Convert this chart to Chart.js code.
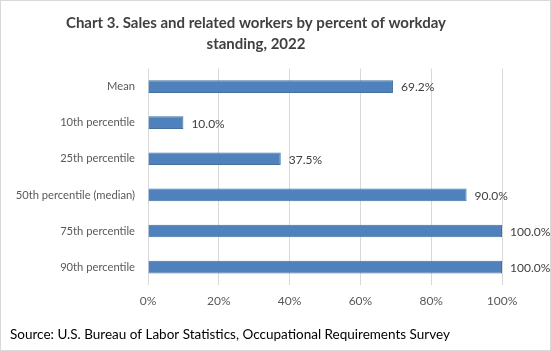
<!DOCTYPE html>
<html>
<head>
<meta charset="utf-8">
<script src="https://cdn.jsdelivr.net/npm/chart.js@4"></script>
<style>
  body { margin: 0; background: #fff; }
  #wrap { width: 551px; height: 351px; position: relative; }
  #wrap:after { content: ""; position: absolute; left: 0; top: 0; right: 0; bottom: 0; border: 1px solid #d9d9d9; pointer-events: none; }
  canvas { display: block; }
</style>
</head>
<body>
<div id="wrap"><canvas id="chart" width="551" height="351"></canvas></div>
<script>
const categories = ["Mean", "10th percentile", "25th percentile", "50th percentile (median)", "75th percentile", "90th percentile"];
const values = [69.2, 10.0, 37.5, 90.0, 100.0, 100.0];
const tickValues = [0, 20, 40, 60, 80, 100];

const fontFamily = "Lato, 'Open Sans', sans-serif";

// writes the value just past the end of each bar
const barLabels = {
    id: "barLabels",
    afterDatasetsDraw(chart) {
        const ctx = chart.ctx;
        const meta = chart.getDatasetMeta(0);
        ctx.save();
        ctx.font = "12px " + fontFamily;
        ctx.fillStyle = "#404040";
        ctx.textAlign = "left";
        ctx.textBaseline = "middle";
        meta.data.forEach((bar, i) => {
            ctx.fillText(values[i].toFixed(1) + "%", bar.x + 8, bar.y + 1);
        });
        ctx.restore();
    }
};

new Chart(document.getElementById("chart"), {
    type: "bar",
    data: {
        labels: categories,
        datasets: [{
            data: values,
            backgroundColor: "#4f81bd",
            borderColor: "#41719c",
            borderWidth: 1,
            categoryPercentage: 1,
            barPercentage: 0.35
        }]
    },
    options: {
        indexAxis: "y",
        responsive: false,
        animation: false,
        layout: { padding: { left: 10, right: 49, top: 0, bottom: 0 } },
        plugins: {
            legend: { display: false },
            tooltip: { enabled: false },
            title: {
                display: true,
                text: ["Chart 3. Sales and related workers by percent of workday", "standing, 2022"],
                color: "#404040",
                font: { family: fontFamily, size: 15, weight: "bold", lineHeight: 1.45 },
                padding: { top: 12, bottom: 13 }
            },
            subtitle: {
                display: true,
                position: "bottom",
                align: "start",
                text: "Source: U.S. Bureau of Labor Statistics, Occupational Requirements Survey",
                color: "#000000",
                font: { family: fontFamily, size: 13.5, lineHeight: 1.2 },
                padding: { top: 9.7, bottom: 7.9 }
            }
        },
        scales: {
            x: {
                min: 0,
                max: 100,
                afterBuildTicks(scale) {
                    scale.ticks = tickValues.map(v => ({ value: v }));
                },
                ticks: {
                    callback: v => v + "%",
                    color: "#595959",
                    font: { family: fontFamily, size: 12 },
                    padding: 8.8,
                    maxRotation: 0
                },
                grid: { color: "#d9d9d9", lineWidth: 1, drawTicks: false },
                border: { display: false }
            },
            y: {
                afterFit(scale) { scale.width = 138; },
                ticks: {
                    color: "#595959",
                    font: { family: fontFamily, size: 11.2 },
                    padding: 13
                },
                grid: { display: false, drawTicks: false },
                border: { display: false }
            }
        }
    },
    plugins: [barLabels]
});
</script>
</body>
</html>
